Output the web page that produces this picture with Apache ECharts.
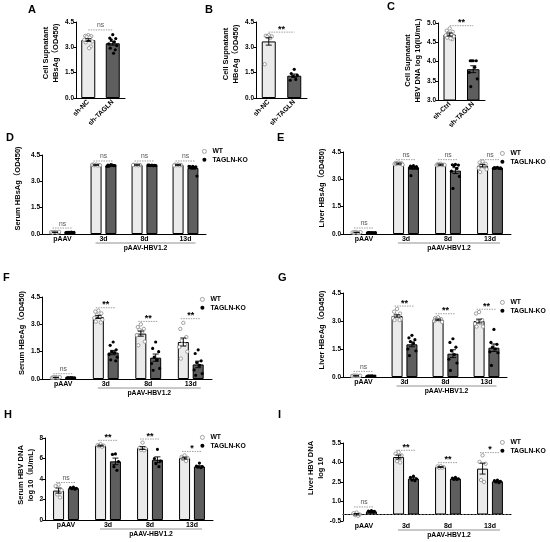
<!DOCTYPE html>
<html><head><meta charset="utf-8">
<script src="https://cdn.jsdelivr.net/npm/echarts@6/dist/echarts.min.js"></script>
<style>html,body{margin:0;padding:0;background:#fff}#c{width:550px;height:542px}</style>
</head><body><div id="c"></div>
<script>
// ---------------- DATA ----------------
const catsA = ['sh-NC', 'sh-TAGLN'];
const catsB = ['sh-NC', 'sh-TAGLN'];
const catsC = ['sh-Ctrl', 'sh-TAGLN'];
const catsMouse = ['pAAV', '3d', '8d', '13d'];
const groupLabel = 'pAAV-HBV1.2';
const groupRange = [1, 3];
const seriesNames = ['WT', 'TAGLN-KO'];

// Panel A
const aMean = [3.43, 3.24];
const aSem = [0.08, 0.11];
const aDots = [[3.72, 3.68, 3.66, 3.62, 3.58, 3.45, 3.35, 3.3, 3.05, 2.95],
               [3.75, 3.55, 3.52, 3.45, 3.32, 3.2, 3.1, 2.95, 2.85, 2.65]];
const aSigY = [4.03]; const aSigText = ['ns'];
// Panel B
const bMean = [3.35, 1.32];
const bSem = [0.22, 0.1];
const bDots = [[3.72, 3.68, 3.65, 3.62, 3.55, 2.0],
               [1.7, 1.45, 1.35, 1.3, 1.1, 1.05]];
const bSigY = [3.9]; const bSigText = ['**'];
// Panel C
const cMean = [4.7, 3.8];
const cSem = [0.04, 0.09];
const cDots = [[4.86, 4.8, 4.77, 4.74, 4.7, 4.68, 4.65, 4.62, 4.58, 4.6],
               [4.02, 4.02, 4.02, 4.02, 3.85, 3.72, 3.55, 3.35]];
const cSigY = [4.93]; const cSigText = ['**'];

// Panel D  Serum HBsAg
const dWtMean = [0.1, 3.93, 3.93, 3.93];
const dKoMean = [0.09, 3.9, 3.91, 3.76];
const dWtSem = [0.01, 0.02, 0.01, 0.02];
const dKoSem = [0.01, 0.03, 0.02, 0.07];
const dWtDots = [[0.12, 0.1, 0.08, 0.11, 0.09, 0.1, 0.12, 0.08], [3.96, 3.95, 3.93, 3.92, 3.9, 3.94, 3.91, 3.93], [3.95, 3.94, 3.93, 3.92, 3.91, 3.93], [3.96, 3.95, 3.93, 3.92, 3.91, 3.9]];
const dKoDots = [[0.1, 0.09, 0.08, 0.1, 0.11, 0.08, 0.09, 0.07], [3.95, 3.93, 3.9, 3.88, 3.92, 3.85, 3.9, 3.87], [3.93, 3.92, 3.91, 3.9, 3.89, 3.92, 3.9, 3.91], [3.85, 3.83, 3.82, 3.8, 3.78, 3.85, 3.3, 3.82]];
const dSigY = [0.34, 4.16, 4.16, 4.16];
const dSigText = ['ns', 'ns', 'ns', 'ns'];

// Panel E  Liver HBsAg
const eWtMean = [0.08, 3.86, 3.8, 3.75];
const eKoMean = [0.07, 3.62, 3.48, 3.62];
const eWtSem = [0.01, 0.03, 0.03, 0.07];
const eKoSem = [0.01, 0.07, 0.16, 0.02];
const eWtDots = [[0.1, 0.08, 0.07, 0.09, 0.06, 0.08, 0.1, 0.07], [3.92, 3.9, 3.88, 3.87, 3.85, 3.83, 3.8, 3.85], [3.85, 3.83, 3.8, 3.8, 3.78, 3.77, 3.79, 3.78], [3.98, 3.92, 3.85, 3.8, 3.7, 3.62, 3.55, 3.4]];
const eKoDots = [[0.08, 0.07, 0.06, 0.08, 0.07, 0.06, 0.08, 0.07], [3.75, 3.72, 3.7, 3.68, 3.65, 3.62, 3.6, 3.2], [3.82, 3.8, 3.78, 3.75, 3.6, 3.45, 3.16, 2.5], [3.66, 3.64, 3.63, 3.62, 3.6, 3.6, 3.58, 3.62]];
const eSigY = [0.33, 4.08, 4.08, 4.08];
const eSigText = ['ns', 'ns', 'ns', 'ns'];

// Panel F  Serum HBeAg
const fWtMean = [0.08, 3.4, 2.49, 2.03];
const fKoMean = [0.06, 1.45, 1.17, 0.8];
const fWtSem = [0.01, 0.08, 0.14, 0.22];
const fKoSem = [0.01, 0.12, 0.2, 0.18];
const fWtDots = [[0.1, 0.08, 0.07, 0.09, 0.08, 0.06, 0.1, 0.07], [3.75, 3.7, 3.6, 3.5, 3.45, 3.35, 3.25, 3.15, 3.1], [3.0, 2.85, 2.75, 2.7, 2.6, 2.4, 2.05, 1.85], [3.08, 2.75, 2.3, 2.1, 1.9, 1.75, 1.5, 1.12]];
const fKoDots = [[0.07, 0.06, 0.05, 0.06, 0.07, 0.05, 0.06, 0.06], [2.03, 1.85, 1.6, 1.5, 1.45, 1.35, 1.2, 1.05, 1.0], [2.03, 1.68, 1.5, 1.2, 1.05, 0.85, 0.58, 0.48], [1.6, 1.4, 1.0, 0.9, 0.75, 0.5, 0.3, 0.2]];
const fSigY = [0.29, 3.91, 3.16, 3.31];
const fSigText = ['ns', '**', '**', '**'];

// Panel G  Liver HBeAg
const gWtMean = [0.06, 3.27, 3.07, 3.0];
const gKoMean = [0.05, 1.75, 1.25, 1.57];
const gWtSem = [0.01, 0.06, 0.03, 0.1];
const gKoSem = [0.01, 0.13, 0.21, 0.2];
const gWtDots = [[0.07, 0.06, 0.05, 0.07, 0.06, 0.05, 0.07, 0.06], [3.65, 3.5, 3.4, 3.3, 3.25, 3.15, 3.1, 3.05, 3.05], [3.2, 3.15, 3.1, 3.1, 3.05, 3.0, 2.95, 3.05], [3.48, 3.4, 3.05, 2.95, 2.9, 2.85, 2.7, 2.7]];
const gKoDots = [[0.06, 0.05, 0.04, 0.05, 0.06, 0.04, 0.05, 0.05], [2.23, 2.1, 2.0, 1.9, 1.8, 1.5, 1.4, 1.15], [2.05, 1.85, 1.6, 1.4, 1.2, 0.95, 0.75, 0.35], [2.55, 1.85, 1.75, 1.6, 1.5, 1.35, 1.3, 0.62]];
const gSigY = [0.3, 3.8, 3.39, 3.63];
const gSigText = ['ns', '**', '**', '**'];

// Panel H  Serum HBV DNA
const hWtMean = [2.87, 7.25, 7.02, 6.04];
const hKoMean = [3.1, 5.72, 5.88, 5.22];
const hWtSem = [0.25, 0.05, 0.14, 0.09];
const hKoSem = [0.04, 0.32, 0.28, 0.08];
const hWtDots = [[3.45, 3.3, 2.9, 2.5, 2.2], [7.4, 7.3, 7.25, 7.2, 7.15], [7.55, 7.05, 6.95, 6.85, 6.8], [6.3, 6.15, 6.05, 5.95, 5.75]];
const hKoDots = [[3.2, 3.15, 3.1, 3.05, 3.0], [6.45, 6.4, 5.7, 5.2, 4.85], [6.9, 6.0, 5.75, 5.5, 5.2], [5.55, 5.25, 5.2, 5.15, 5.1]];
const hSigY = [3.66, 7.77, 7.9, 6.69];
const hSigText = ['ns', '**', '**', '*'];

// Panel I  Liver HBV DNA
const iWtMean = [0.02, 4.42, 3.65, 3.53];
const iKoMean = [0.24, 2.76, 2.76, 2.55];
const iWtSem = [0.06, 0.15, 0.03, 0.42];
const iKoSem = [0.03, 0.07, 0.03, 0.04];
const iWtDots = [[0.15, 0.1, 0.0, -0.05, -0.1], [4.8, 4.68, 4.55, 4.1, 4.0], [3.72, 3.7, 3.65, 3.6, 3.6], [4.55, 4.05, 3.9, 2.65, 2.5]];
const iKoDots = [[0.3, 0.27, 0.24, 0.2, 0.2], [2.95, 2.85, 2.75, 2.65, 2.6], [2.85, 2.8, 2.75, 2.7, 2.7], [2.65, 2.6, 2.55, 2.5, 2.45]];
const iSigY = [0.58, 4.94, 3.99, 4.76];
const iSigText = ['ns', '**', '**', '*'];
const iTicks = [-0.5, 1.0, 2.5, 4.0, 5.5];

// ---------------- STYLE / LAYOUT ----------------
const FONT = '"Liberation Sans", Arial, "Noto Sans CJK SC", sans-serif';
const WT_FILL = '#ebebeb', KO_FILL = '#5e5e5e';
const JIT = [0, -3, 3, -1.5, 1.5, -4, 4, -2.5, 2.5, 0.8];
const BW = 11, GAP = 0.35, OFF = BW * (1 + GAP) / 2;

const option = {
  animation: false,
  backgroundColor: '#fff',
  title: [], grid: [], xAxis: [], yAxis: [], series: [], legend: []
};

function errItem(offset) {
  return function (params, api) {
    const c = api.value(0), m = api.value(1), s = api.value(2);
    const pt = api.coord([c, m + s]), pb = api.coord([c, m - s]);
    const x = pt[0] + offset;
    const st = { stroke: '#000', lineWidth: 0.9 };
    return { type: 'group', children: [
      { type: 'line', shape: { x1: x, y1: pt[1], x2: x, y2: pb[1] }, style: st },
      { type: 'line', shape: { x1: x - 3, y1: pt[1], x2: x + 3, y2: pt[1] }, style: st },
      { type: 'line', shape: { x1: x - 3, y1: pb[1], x2: x + 3, y2: pb[1] }, style: st }
    ] };
  };
}
function dotItem(offset, hollowFn) {
  return function (params, api) {
    const c = api.value(0);
    const p = api.coord([c, api.value(1)]);
    const j = api.value(2);
    const dx = JIT[j % JIT.length];
    const hollow = hollowFn(c);
    return { type: 'circle', shape: { cx: p[0] + offset + dx, cy: p[1], r: hollow ? 1.7 : 1.6 },
      style: hollow ? { fill: '#fff', stroke: '#8a8a8a', lineWidth: 0.8 } : { fill: '#000' } };
  };
}
function sigItem(texts, ext) {
  return function (params, api) {
    const y = api.value(1);
    const p1 = api.coord([api.value(0), y]);
    const p2 = api.coord([api.value(2), y]);
    const xa = p1[0] - ext, xb = p2[0] + ext;
    const t = texts[params.dataIndex];
    const ns = t === 'ns';
    return { type: 'group', children: [
      { type: 'line', shape: { x1: xa, y1: p1[1], x2: xb, y2: p1[1] }, style: { stroke: '#888', lineWidth: 0.8, lineDash: [1.5, 1] } },
      { type: 'text', style: { text: t, x: (xa + xb) / 2, y: ns ? p1[1] - 1 : p1[1] + 1.5, align: 'center', verticalAlign: 'bottom',
          fontFamily: FONT, fontSize: ns ? 6.8 : 9, fontWeight: ns ? 'normal' : 'bold', fill: ns ? '#555' : '#000' } }
    ] };
  };
}
function groupItem(label) {
  return function (params, api) {
    const cs = params.coordSys;
    const x1 = api.coord([api.value(0), 0])[0] - 8;
    const x2 = api.coord([api.value(1), 0])[0] + 10;
    const yb = cs.y + cs.height;
    return { type: 'group', children: [
      { type: 'line', shape: { x1: x1, y1: yb + 9, x2: x2, y2: yb + 9 }, style: { stroke: '#777', lineWidth: 0.8 } },
      { type: 'text', style: { text: label, x: (x1 + x2) / 2, y: yb + 10.5, align: 'center', verticalAlign: 'top',
          fontFamily: FONT, fontSize: 6.8, fontWeight: 'bold', fill: '#000' } }
    ] };
  };
}
function yAxisCfg(gi, L) {
  const cfg = {
    type: 'value', gridIndex: gi, min: L.min, max: L.max,
    axisLine: { show: true, lineStyle: { color: '#000', width: 1 } },
    axisTick: { show: true, length: 2.5, lineStyle: { color: '#000', width: 1 } },
    splitLine: { show: false },
    axisLabel: { fontSize: 6.5, fontWeight: 'bold', color: '#000', margin: 2, fontFamily: FONT,
      formatter: v => L.digits === 0 ? String(Math.round(v)) : v.toFixed(1) },
    name: L.name, nameLocation: 'middle', nameRotate: 90, nameGap: L.nameGap,
    nameTextStyle: { fontSize: 7.5, fontWeight: 'bold', color: '#000', fontFamily: FONT, lineHeight: 10,
      padding: [0, 0, 0, L.nameShift || 0] }
  };
  if (L.ticks) {
    cfg.axisLabel.customValues = L.ticks;
    cfg.axisTick.customValues = L.ticks;
  } else {
    cfg.interval = L.interval;
  }
  return cfg;
}
function flatDots(dots) {
  const out = [];
  dots.forEach((arr, c) => arr.forEach((v, j) => out.push([c, v, j])));
  return out;
}
function letterTitle(L) {
  return { text: L.letter, left: L.lx, top: L.ly, padding: 0,
    textStyle: { fontSize: 11, fontWeight: 'bold', color: '#000', fontFamily: FONT } };
}

function addCellPanel(gi, L, cats, mean, sem, dots, sigY, sigText, bw) {
  option.title.push(letterTitle(L));
  option.grid.push(L.grid);
  option.xAxis.push({ type: 'category', gridIndex: gi, data: cats,
    axisLine: { lineStyle: { color: '#000', width: 1 } }, axisTick: { show: false },
    axisLabel: { rotate: 45, margin: 3, fontSize: 6.8, fontWeight: 'bold', color: '#000', fontFamily: FONT, interval: 0 } });
  option.yAxis.push(yAxisCfg(gi, L));
  option.series.push({ type: 'bar', xAxisIndex: gi, yAxisIndex: gi, barWidth: bw, z: 2,
    data: mean.map((v, i) => ({ value: v, itemStyle: { color: i === 0 ? WT_FILL : KO_FILL } })),
    itemStyle: { borderColor: '#000', borderWidth: 1 } });
  option.series.push({ type: 'custom', xAxisIndex: gi, yAxisIndex: gi, z: 4, renderItem: dotItem(0, c => c === 0), data: flatDots(dots) });
  option.series.push({ type: 'custom', xAxisIndex: gi, yAxisIndex: gi, z: 5, renderItem: errItem(0), data: mean.map((m, c) => [c, m, sem[c]]) });
  option.series.push({ type: 'custom', xAxisIndex: gi, yAxisIndex: gi, z: 5, renderItem: sigItem(sigText, 0), data: sigY.map(y => [0, y, 1]) });
}

function addMousePanel(gi, L, d) {
  option.title.push(letterTitle(L));
  option.grid.push(L.grid);
  option.xAxis.push({ type: 'category', gridIndex: gi, data: catsMouse,
    axisLine: { lineStyle: { color: '#000', width: 1 } }, axisTick: { show: false },
    axisLabel: { margin: 2, fontSize: 7, fontWeight: 'bold', color: '#000', fontFamily: FONT, interval: 0 } });
  option.yAxis.push(yAxisCfg(gi, L));
  const wtBar = { type: 'bar', name: seriesNames[0], xAxisIndex: gi, yAxisIndex: gi, data: d.wtMean, barWidth: BW, barGap: (GAP * 100) + '%', z: 2,
    itemStyle: { color: WT_FILL, borderColor: '#000', borderWidth: 1 } };
  if (L.zeroLine) {
    wtBar.markLine = { silent: true, symbol: 'none', label: { show: false }, data: [{ yAxis: 0 }],
      lineStyle: { type: [2, 1.5], color: '#666', width: 0.9 } };
  }
  option.series.push(wtBar);
  option.series.push({ type: 'bar', name: seriesNames[1], xAxisIndex: gi, yAxisIndex: gi, data: d.koMean, barWidth: BW, barGap: (GAP * 100) + '%', z: 2,
    itemStyle: { color: KO_FILL, borderColor: '#000', borderWidth: 1 } });
  option.series.push({ type: 'custom', xAxisIndex: gi, yAxisIndex: gi, z: 4, renderItem: dotItem(-OFF, () => true), data: flatDots(d.wtDots) });
  option.series.push({ type: 'custom', xAxisIndex: gi, yAxisIndex: gi, z: 4, renderItem: dotItem(OFF, () => false), data: flatDots(d.koDots) });
  option.series.push({ type: 'custom', xAxisIndex: gi, yAxisIndex: gi, z: 5, renderItem: errItem(-OFF), data: d.wtMean.map((m, c) => [c, m, d.wtSem[c]]) });
  option.series.push({ type: 'custom', xAxisIndex: gi, yAxisIndex: gi, z: 5, renderItem: errItem(OFF), data: d.koMean.map((m, c) => [c, m, d.koSem[c]]) });
  option.series.push({ type: 'custom', xAxisIndex: gi, yAxisIndex: gi, z: 5, renderItem: sigItem(d.sigText, 10), data: d.sigY.map((y, c) => [c, y, c]) });
  option.series.push({ type: 'custom', xAxisIndex: gi, yAxisIndex: gi, z: 5, renderItem: groupItem(groupLabel), data: [groupRange] });
  option.legend.push({ left: L.legX, top: L.legY, orient: 'vertical', selectedMode: false, itemGap: 1.5, itemWidth: 4, itemHeight: 4,
    textStyle: { fontSize: 6.8, fontWeight: 'bold', color: '#000', fontFamily: FONT, padding: [0, 0, 0, 1] },
    padding: 0,
    data: [
      { name: seriesNames[0], icon: 'circle', itemStyle: { color: '#fff', borderColor: '#8a8a8a', borderWidth: 0.8 } },
      { name: seriesNames[1], icon: 'circle', itemStyle: { color: '#000', borderWidth: 0 } }
    ] });
}

// Panels
addCellPanel(0, { letter: 'A', lx: 28, ly: 4, grid: { left: 76, top: 22, width: 49, height: 76 }, min: 0, max: 4.5, interval: 1.5,
  name: 'Cell Supnatant\nHBsAg（OD450)', nameGap: 15, nameShift: 14 }, catsA, aMean, aSem, aDots, aSigY, aSigText, 14);
addCellPanel(1, { letter: 'B', lx: 205, ly: 4, grid: { left: 256, top: 22, width: 51, height: 76 }, min: 0, max: 4.5, interval: 1.5,
  name: 'Cell Supnatant\nHBeAg（OD450)', nameGap: 15, nameShift: 12 }, catsB, bMean, bSem, bDots, bSigY, bSigText, 14);
addCellPanel(2, { letter: 'C', lx: 387, ly: 1, grid: { left: 438, top: 23, width: 47, height: 77 }, min: 3, max: 5, interval: 0.5,
  name: 'Cell Supnatant\nHBV DNA log 10(IU/mL)', nameGap: 12, nameShift: 2 }, catsC, cMean, cSem, cDots, cSigY, cSigText, 12.5);

addMousePanel(3, { letter: 'D', lx: 6, ly: 132, grid: { left: 42, top: 155, width: 164, height: 79 }, min: 0, max: 4.5, interval: 1.5,
  name: 'Serum HBsAg（OD450)', nameGap: 19, nameShift: 12, legX: 202, legY: 148 },
  { wtMean: dWtMean, koMean: dKoMean, wtSem: dWtSem, koSem: dKoSem, wtDots: dWtDots, koDots: dKoDots, sigY: dSigY, sigText: dSigText });
addMousePanel(4, { letter: 'E', lx: 277, ly: 132, grid: { left: 343, top: 152, width: 168, height: 82 }, min: 0, max: 4.5, interval: 1.5,
  name: 'Liver HBsAg（OD450)', nameGap: 16, nameShift: 10, legX: 500, legY: 150 },
  { wtMean: eWtMean, koMean: eKoMean, wtSem: eWtSem, koSem: eKoSem, wtDots: eWtDots, koDots: eKoDots, sigY: eSigY, sigText: eSigText });
addMousePanel(5, { letter: 'F', lx: 3, ly: 272, grid: { left: 42, top: 297, width: 170, height: 82 }, min: 0, max: 4.5, interval: 1.5,
  name: 'Serum HBeAg（OD450)', nameGap: 15, nameShift: 10, legX: 200, legY: 296 },
  { wtMean: fWtMean, koMean: fKoMean, wtSem: fWtSem, koSem: fKoSem, wtDots: fWtDots, koDots: fKoDots, sigY: fSigY, sigText: fSigText });
addMousePanel(6, { letter: 'G', lx: 278, ly: 272, grid: { left: 343, top: 293, width: 164, height: 84 }, min: 0, max: 4.5, interval: 1.5,
  name: 'Liver HBeAg（OD450)', nameGap: 16, nameShift: 10, legX: 500, legY: 299 },
  { wtMean: gWtMean, koMean: gKoMean, wtSem: gWtSem, koSem: gKoSem, wtDots: gWtDots, koDots: gKoDots, sigY: gSigY, sigText: gSigText });
addMousePanel(7, { letter: 'H', lx: 4, ly: 409, grid: { left: 45, top: 438, width: 168, height: 82 }, min: 0, max: 8, interval: 2, digits: 0,
  name: 'Serum HBV DNA\nlog 10（IU/mL)', nameGap: 9, nameShift: 8, legX: 200, legY: 434 },
  { wtMean: hWtMean, koMean: hKoMean, wtSem: hWtSem, koSem: hKoSem, wtDots: hWtDots, koDots: hKoDots, sigY: hSigY, sigText: hSigText });
addMousePanel(8, { letter: 'I', lx: 278, ly: 409, grid: { left: 343, top: 443, width: 168, height: 78 }, min: -0.5, max: 5.5, ticks: iTicks,
  name: 'Liver HBV DNA\nlog 10', nameGap: 6, nameShift: 28, legX: 500, legY: 439, zeroLine: true },
  { wtMean: iWtMean, koMean: iKoMean, wtSem: iWtSem, koSem: iKoSem, wtDots: iWtDots, koDots: iKoDots, sigY: iSigY, sigText: iSigText });

const chart = echarts.init(document.getElementById('c'), null, { renderer: 'canvas' });
chart.setOption(option);
</script>
</body></html>
